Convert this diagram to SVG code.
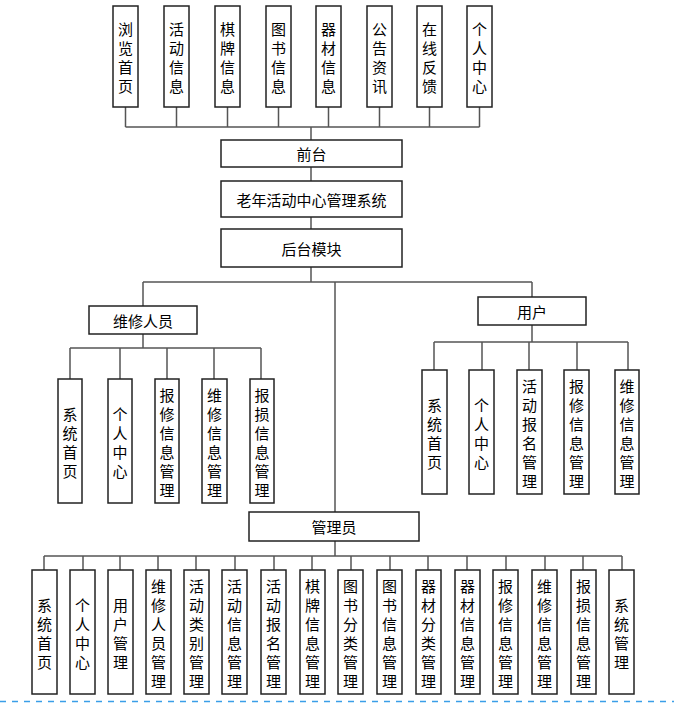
<svg xmlns="http://www.w3.org/2000/svg" width="674" height="703" viewBox="0 0 674 703">
<style>
.box{fill:#fff;stroke:#222;stroke-width:1.5}
.t{font-family:"Noto Sans CJK SC","Noto Sans",sans-serif;font-size:15px;fill:#000;text-anchor:middle;dominant-baseline:central}
.c{fill:none;stroke:#555;stroke-width:1.5}
</style>
<rect width="674" height="703" fill="#fff"/>
<g id="connectors">
<path class="c" d="M125.5,107V127M176.5,107V127M227.5,107V127M278.5,107V127M328.5,107V127M379.5,107V127M429.5,107V127M479.5,107V127M125.5,127H479.5M311,127V140"/>
<path class="c" d="M311,167V181M311,217V229M311,267V282M143,282H532M143,282V306M532,282V297M335,282V512"/>
<path class="c" d="M143,334V348M70,348H261M70,348V379M120,348V379M167,348V379M214,348V379M261,348V379"/>
<path class="c" d="M532,325V342M434,342H628M434,342V370M482,342V370M529,342V370M577,342V370M628,342V370"/>
<path class="c" d="M335,541V556M44,556H622M44,556V570M83,556V570M120,556V570M158,556V570M196,556V570M235,556V570M274,556V570M312,556V570M351,556V570M390,556V570M428,556V570M467,556V570M506,556V570M545,556V570M583,556V570M622,556V570"/>
</g>
<g id="n_top1"><rect class="box" x="113" y="6" width="25" height="101"/><text class="t"><tspan x="125.5" y="28">浏</tspan><tspan x="125.5" y="47">览</tspan><tspan x="125.5" y="66">首</tspan><tspan x="125.5" y="85">页</tspan></text></g>
<g id="n_top2"><rect class="box" x="164" y="6" width="25" height="101"/><text class="t"><tspan x="176.5" y="28">活</tspan><tspan x="176.5" y="47">动</tspan><tspan x="176.5" y="66">信</tspan><tspan x="176.5" y="85">息</tspan></text></g>
<g id="n_top3"><rect class="box" x="215" y="6" width="25" height="101"/><text class="t"><tspan x="227.5" y="28">棋</tspan><tspan x="227.5" y="47">牌</tspan><tspan x="227.5" y="66">信</tspan><tspan x="227.5" y="85">息</tspan></text></g>
<g id="n_top4"><rect class="box" x="266" y="6" width="25" height="101"/><text class="t"><tspan x="278.5" y="28">图</tspan><tspan x="278.5" y="47">书</tspan><tspan x="278.5" y="66">信</tspan><tspan x="278.5" y="85">息</tspan></text></g>
<g id="n_top5"><rect class="box" x="316" y="6" width="25" height="101"/><text class="t"><tspan x="328.5" y="28">器</tspan><tspan x="328.5" y="47">材</tspan><tspan x="328.5" y="66">信</tspan><tspan x="328.5" y="85">息</tspan></text></g>
<g id="n_top6"><rect class="box" x="367" y="6" width="25" height="101"/><text class="t"><tspan x="379.5" y="28">公</tspan><tspan x="379.5" y="47">告</tspan><tspan x="379.5" y="66">资</tspan><tspan x="379.5" y="85">讯</tspan></text></g>
<g id="n_top7"><rect class="box" x="417" y="6" width="25" height="101"/><text class="t"><tspan x="429.5" y="28">在</tspan><tspan x="429.5" y="47">线</tspan><tspan x="429.5" y="66">反</tspan><tspan x="429.5" y="85">馈</tspan></text></g>
<g id="n_top8"><rect class="box" x="467" y="6" width="25" height="101"/><text class="t"><tspan x="479.5" y="28">个</tspan><tspan x="479.5" y="47">人</tspan><tspan x="479.5" y="66">中</tspan><tspan x="479.5" y="85">心</tspan></text></g>
<g id="n_front"><rect class="box" x="221" y="140" width="181" height="27"/><text class="t" x="311.5" y="153.5">前台</text></g>
<g id="n_system"><rect class="box" x="221" y="181" width="181" height="36"/><text class="t" x="311.5" y="199">老年活动中心管理系统</text></g>
<g id="n_back"><rect class="box" x="221" y="229" width="181" height="38"/><text class="t" x="311.5" y="248">后台模块</text></g>
<g id="n_repair"><rect class="box" x="89" y="306" width="108" height="28"/><text class="t" x="143" y="320">维修人员</text></g>
<g id="n_r1"><rect class="box" x="58" y="379" width="24" height="124"/><text class="t"><tspan x="70" y="412.5">系</tspan><tspan x="70" y="431.5">统</tspan><tspan x="70" y="450.5">首</tspan><tspan x="70" y="469.5">页</tspan></text></g>
<g id="n_r2"><rect class="box" x="108" y="379" width="24" height="124"/><text class="t"><tspan x="120" y="412.5">个</tspan><tspan x="120" y="431.5">人</tspan><tspan x="120" y="450.5">中</tspan><tspan x="120" y="469.5">心</tspan></text></g>
<g id="n_r3"><rect class="box" x="155" y="379" width="24" height="124"/><text class="t"><tspan x="167" y="393.5">报</tspan><tspan x="167" y="412.5">修</tspan><tspan x="167" y="431.5">信</tspan><tspan x="167" y="450.5">息</tspan><tspan x="167" y="469.5">管</tspan><tspan x="167" y="488.5">理</tspan></text></g>
<g id="n_r4"><rect class="box" x="202" y="379" width="25" height="124"/><text class="t"><tspan x="214.5" y="393.5">维</tspan><tspan x="214.5" y="412.5">修</tspan><tspan x="214.5" y="431.5">信</tspan><tspan x="214.5" y="450.5">息</tspan><tspan x="214.5" y="469.5">管</tspan><tspan x="214.5" y="488.5">理</tspan></text></g>
<g id="n_r5"><rect class="box" x="250" y="379" width="24" height="124"/><text class="t"><tspan x="262" y="393.5">报</tspan><tspan x="262" y="412.5">损</tspan><tspan x="262" y="431.5">信</tspan><tspan x="262" y="450.5">息</tspan><tspan x="262" y="469.5">管</tspan><tspan x="262" y="488.5">理</tspan></text></g>
<g id="n_user"><rect class="box" x="478" y="297" width="108" height="28"/><text class="t" x="532" y="311">用户</text></g>
<g id="n_u1"><rect class="box" x="422" y="370" width="25" height="124"/><text class="t"><tspan x="434.5" y="403.5">系</tspan><tspan x="434.5" y="422.5">统</tspan><tspan x="434.5" y="441.5">首</tspan><tspan x="434.5" y="460.5">页</tspan></text></g>
<g id="n_u2"><rect class="box" x="469" y="370" width="25" height="124"/><text class="t"><tspan x="481.5" y="403.5">个</tspan><tspan x="481.5" y="422.5">人</tspan><tspan x="481.5" y="441.5">中</tspan><tspan x="481.5" y="460.5">心</tspan></text></g>
<g id="n_u3"><rect class="box" x="517" y="370" width="25" height="124"/><text class="t"><tspan x="529.5" y="384.5">活</tspan><tspan x="529.5" y="403.5">动</tspan><tspan x="529.5" y="422.5">报</tspan><tspan x="529.5" y="441.5">名</tspan><tspan x="529.5" y="460.5">管</tspan><tspan x="529.5" y="479.5">理</tspan></text></g>
<g id="n_u4"><rect class="box" x="564" y="370" width="25" height="124"/><text class="t"><tspan x="576.5" y="384.5">报</tspan><tspan x="576.5" y="403.5">修</tspan><tspan x="576.5" y="422.5">信</tspan><tspan x="576.5" y="441.5">息</tspan><tspan x="576.5" y="460.5">管</tspan><tspan x="576.5" y="479.5">理</tspan></text></g>
<g id="n_u5"><rect class="box" x="615" y="370" width="24" height="124"/><text class="t"><tspan x="627" y="384.5">维</tspan><tspan x="627" y="403.5">修</tspan><tspan x="627" y="422.5">信</tspan><tspan x="627" y="441.5">息</tspan><tspan x="627" y="460.5">管</tspan><tspan x="627" y="479.5">理</tspan></text></g>
<g id="n_admin"><rect class="box" x="249" y="512" width="170" height="29"/><text class="t" x="334" y="526.5">管理员</text></g>
<g id="n_a1"><rect class="box" x="32" y="570" width="25" height="124"/><text class="t"><tspan x="44.5" y="603.5">系</tspan><tspan x="44.5" y="622.5">统</tspan><tspan x="44.5" y="641.5">首</tspan><tspan x="44.5" y="660.5">页</tspan></text></g>
<g id="n_a2"><rect class="box" x="70" y="570" width="25" height="124"/><text class="t"><tspan x="82.5" y="603.5">个</tspan><tspan x="82.5" y="622.5">人</tspan><tspan x="82.5" y="641.5">中</tspan><tspan x="82.5" y="660.5">心</tspan></text></g>
<g id="n_a3"><rect class="box" x="108" y="570" width="25" height="124"/><text class="t"><tspan x="120.5" y="603.5">用</tspan><tspan x="120.5" y="622.5">户</tspan><tspan x="120.5" y="641.5">管</tspan><tspan x="120.5" y="660.5">理</tspan></text></g>
<g id="n_a4"><rect class="box" x="146" y="570" width="25" height="124"/><text class="t"><tspan x="158.5" y="584.5">维</tspan><tspan x="158.5" y="603.5">修</tspan><tspan x="158.5" y="622.5">人</tspan><tspan x="158.5" y="641.5">员</tspan><tspan x="158.5" y="660.5">管</tspan><tspan x="158.5" y="679.5">理</tspan></text></g>
<g id="n_a5"><rect class="box" x="184" y="570" width="25" height="124"/><text class="t"><tspan x="196.5" y="584.5">活</tspan><tspan x="196.5" y="603.5">动</tspan><tspan x="196.5" y="622.5">类</tspan><tspan x="196.5" y="641.5">别</tspan><tspan x="196.5" y="660.5">管</tspan><tspan x="196.5" y="679.5">理</tspan></text></g>
<g id="n_a6"><rect class="box" x="222" y="570" width="25" height="124"/><text class="t"><tspan x="234.5" y="584.5">活</tspan><tspan x="234.5" y="603.5">动</tspan><tspan x="234.5" y="622.5">信</tspan><tspan x="234.5" y="641.5">息</tspan><tspan x="234.5" y="660.5">管</tspan><tspan x="234.5" y="679.5">理</tspan></text></g>
<g id="n_a7"><rect class="box" x="261" y="570" width="25" height="124"/><text class="t"><tspan x="273.5" y="584.5">活</tspan><tspan x="273.5" y="603.5">动</tspan><tspan x="273.5" y="622.5">报</tspan><tspan x="273.5" y="641.5">名</tspan><tspan x="273.5" y="660.5">管</tspan><tspan x="273.5" y="679.5">理</tspan></text></g>
<g id="n_a8"><rect class="box" x="300" y="570" width="25" height="124"/><text class="t"><tspan x="312.5" y="584.5">棋</tspan><tspan x="312.5" y="603.5">牌</tspan><tspan x="312.5" y="622.5">信</tspan><tspan x="312.5" y="641.5">息</tspan><tspan x="312.5" y="660.5">管</tspan><tspan x="312.5" y="679.5">理</tspan></text></g>
<g id="n_a9"><rect class="box" x="338" y="570" width="25" height="124"/><text class="t"><tspan x="350.5" y="584.5">图</tspan><tspan x="350.5" y="603.5">书</tspan><tspan x="350.5" y="622.5">分</tspan><tspan x="350.5" y="641.5">类</tspan><tspan x="350.5" y="660.5">管</tspan><tspan x="350.5" y="679.5">理</tspan></text></g>
<g id="n_a10"><rect class="box" x="377" y="570" width="25" height="124"/><text class="t"><tspan x="389.5" y="584.5">图</tspan><tspan x="389.5" y="603.5">书</tspan><tspan x="389.5" y="622.5">信</tspan><tspan x="389.5" y="641.5">息</tspan><tspan x="389.5" y="660.5">管</tspan><tspan x="389.5" y="679.5">理</tspan></text></g>
<g id="n_a11"><rect class="box" x="416" y="570" width="25" height="124"/><text class="t"><tspan x="428.5" y="584.5">器</tspan><tspan x="428.5" y="603.5">材</tspan><tspan x="428.5" y="622.5">分</tspan><tspan x="428.5" y="641.5">类</tspan><tspan x="428.5" y="660.5">管</tspan><tspan x="428.5" y="679.5">理</tspan></text></g>
<g id="n_a12"><rect class="box" x="455" y="570" width="25" height="124"/><text class="t"><tspan x="467.5" y="584.5">器</tspan><tspan x="467.5" y="603.5">材</tspan><tspan x="467.5" y="622.5">信</tspan><tspan x="467.5" y="641.5">息</tspan><tspan x="467.5" y="660.5">管</tspan><tspan x="467.5" y="679.5">理</tspan></text></g>
<g id="n_a13"><rect class="box" x="493" y="570" width="25" height="124"/><text class="t"><tspan x="505.5" y="584.5">报</tspan><tspan x="505.5" y="603.5">修</tspan><tspan x="505.5" y="622.5">信</tspan><tspan x="505.5" y="641.5">息</tspan><tspan x="505.5" y="660.5">管</tspan><tspan x="505.5" y="679.5">理</tspan></text></g>
<g id="n_a14"><rect class="box" x="532" y="570" width="25" height="124"/><text class="t"><tspan x="544.5" y="584.5">维</tspan><tspan x="544.5" y="603.5">修</tspan><tspan x="544.5" y="622.5">信</tspan><tspan x="544.5" y="641.5">息</tspan><tspan x="544.5" y="660.5">管</tspan><tspan x="544.5" y="679.5">理</tspan></text></g>
<g id="n_a15"><rect class="box" x="571" y="570" width="25" height="124"/><text class="t"><tspan x="583.5" y="584.5">报</tspan><tspan x="583.5" y="603.5">损</tspan><tspan x="583.5" y="622.5">信</tspan><tspan x="583.5" y="641.5">息</tspan><tspan x="583.5" y="660.5">管</tspan><tspan x="583.5" y="679.5">理</tspan></text></g>
<g id="n_a16"><rect class="box" x="609" y="570" width="25" height="124"/><text class="t"><tspan x="621.5" y="603.5">系</tspan><tspan x="621.5" y="622.5">统</tspan><tspan x="621.5" y="641.5">管</tspan><tspan x="621.5" y="660.5">理</tspan></text></g>
<line x1="0" y1="701.5" x2="674" y2="701.5" stroke="#3a9ee8" stroke-width="1.5" stroke-dasharray="6,6"/>
</svg>
